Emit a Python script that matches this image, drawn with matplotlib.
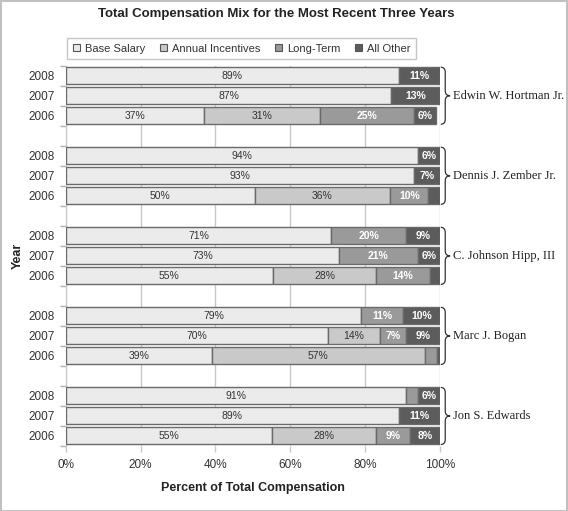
import matplotlib
matplotlib.use("Agg")
import matplotlib.pyplot as plt
from matplotlib.path import Path
from matplotlib.patches import PathPatch, Rectangle
import numpy as np

plt.rcParams['font.family'] = ['Liberation Sans', 'DejaVu Sans']

names = ["Edwin W. Hortman Jr.", "Dennis J. Zember Jr.", "C. Johnson Hipp, III",
         "Marc J. Bogan", "Jon S. Edwards"]
years = ["2008", "2007", "2006"]
components = ["Base Salary", "Annual Incentives", "Long-Term", "All Other"]
colors = ["#ebebeb", "#c9c9c9", "#9a9a9a", "#5c5c5c"]
text_colors = ["#333333", "#333333", "white", "white"]

# per executive, rows 2008, 2007, 2006
base_salary = [[89, 87, 37], [94, 93, 50.5], [71, 73, 55.4], [79, 70, 39], [91, 89, 55]]
annual_inc  = [[0, 0, 31],   [0, 0, 36.2],   [0, 0, 27.6],   [0, 14, 57],  [0, 0, 28]]
long_term   = [[0, 0, 25],   [0, 0, 10.2],   [20, 21, 14.3], [11, 7, 3.2], [3, 0, 9]]
all_other   = [[11, 13, 6],  [6, 7, 3.1],    [9, 6, 2.7],    [10, 9, 0.8], [6, 11, 8]]

series = [base_salary, annual_inc, long_term, all_other]

W, H = 568, 511
fig = plt.figure(figsize=(W / 100, H / 100), dpi=100)
ax = fig.add_axes([65.7 / W, 1 - 446 / H, (440 - 65.7) / W, (446 - 65.7) / H])

bar_h = 0.85
edge = "#6a6a6a"
for g in range(len(names)):
    for k in range(3):
        y = g * 4 + k
        left = 0
        for s in range(4):
            v = series[s][g][k]
            if v <= 0:
                continue
            ax.barh(y, v, left=left, height=bar_h, color=colors[s], edgecolor=edge,
                    linewidth=1.0, zorder=3)
            if v >= 5:
                ax.text(left + v / 2, y, f"{round(v)}%", ha="center", va="center",
                        fontsize=7.5, color=text_colors[s], zorder=4,
                        fontweight="bold" if s >= 2 else "normal")
            left += v

# brackets and names
for g, name in enumerate(names):
    top = g * 4 - bar_h / 2
    bot = g * 4 + 2 + bar_h / 2
    mid = g * 4 + 1
    x0, x1, xt = 100.2, 101.4, 102.7
    c = 0.25
    verts = [(x0, top), (x1, top), (x1, top + c),
             (x1, mid - c), (x1, mid), (xt, mid),
             (x1, mid), (x1, mid + c),
             (x1, bot - c), (x1, bot), (x0, bot)]
    codes = [Path.MOVETO, Path.CURVE3, Path.CURVE3,
             Path.LINETO, Path.CURVE3, Path.CURVE3,
             Path.CURVE3, Path.CURVE3,
             Path.LINETO, Path.CURVE3, Path.CURVE3]
    ax.add_patch(PathPatch(Path(verts, codes), facecolor="none", edgecolor="#333333",
                           linewidth=0.9, clip_on=False, zorder=5))
    ax.text(103.6, mid, name, ha="left", va="center", fontsize=9,
            family="Liberation Serif", color="#222222")

ax.set_xlim(0, 100)
ax.set_ylim(18.5, -0.5)
ax.set_xticks(np.arange(0, 101, 20))
ax.set_xticklabels([f"{v}%" for v in range(0, 101, 20)], fontsize=8.5, color="#333333")
ax.tick_params(axis="x", length=4, color="#c8c8c8", width=1, pad=5)
ax.grid(axis="x", color="#c8c8c8", linewidth=1, zorder=0)

ypos = [g * 4 + k for g in range(len(names)) for k in range(3)]
ax.set_yticks(ypos)
ax.set_yticklabels(years * len(names), fontsize=8.5, color="#333333")
ax.tick_params(axis="y", which="major", length=0, pad=8)
ax.set_yticks(np.arange(-0.5, 18.6, 1), minor=True)
ax.tick_params(axis="y", which="minor", length=4, color="#b0b0b0", width=1)

for sp in ["top", "right", "bottom"]:
    ax.spines[sp].set_visible(False)
ax.spines["left"].set_color("#c8c8c8")

ax.set_xlabel("Percent of Total Compensation", fontsize=9, fontweight="bold",
              color="#222222", labelpad=8)
ax.set_ylabel("Year", fontsize=9, fontweight="bold", color="#222222", labelpad=3)

fig.text(276 / W, 1 - 14 / H, "Total Compensation Mix for the Most Recent Three Years",
         ha="center", va="center", fontsize=9.5, fontweight="bold", color="#222222")

handles = [Rectangle((0, 0), 1, 1, facecolor=colors[i], edgecolor="#555555", linewidth=0.8)
           for i in range(4)]
leg = fig.legend(handles, components, loc="center", ncol=4,
                 bbox_to_anchor=(241.5 / W, 1 - 48.5 / H), frameon=True, fancybox=False,
                 fontsize=8, handlelength=0.7, handleheight=0.7, handletextpad=0.4,
                 columnspacing=1.3, borderpad=0.5)
leg.get_frame().set_edgecolor("#b8b8b8")
leg.get_frame().set_linewidth(1)
for t in leg.get_texts():
    t.set_color("#333333")

fig.patches.append(Rectangle((0.5 / W, 0.5 / H), 1 - 1.5 / W, 1 - 1.5 / H,
                             transform=fig.transFigure, fill=False,
                             edgecolor="#c0c0c0", linewidth=1.5))

fig.savefig("out.png", dpi=100, facecolor="white")
